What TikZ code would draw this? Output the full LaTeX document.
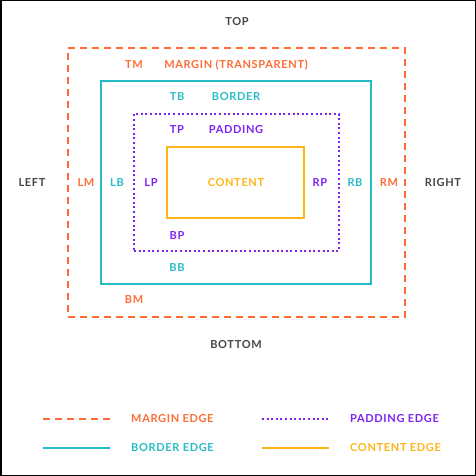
\documentclass[tikz,border=0pt]{standalone}
\usepackage{fontspec}
\setmainfont{Lato}[LetterSpace=6]
\usepackage{tikz}
\usetikzlibrary{calc}

\definecolor{margincol}{HTML}{FF6B35}
\definecolor{bordercol}{HTML}{26BCC6}
\definecolor{paddingcol}{HTML}{7B22F5}
\definecolor{contentcol}{HTML}{FDB515}
\definecolor{sidecol}{HTML}{444444}

\tikzset{
  lbl/.style={font=\bfseries\fontsize{11}{13}\selectfont,inner sep=0pt},
  marginedge/.style={draw=margincol,line width=2pt,dash pattern=on 7pt off 5pt},
  borderedge/.style={draw=bordercol,line width=2pt},
  paddingedge/.style={draw=paddingcol,line width=2pt,dash pattern=on 2pt off 2.6pt},
  contentedge/.style={draw=contentcol,line width=2pt},
  boxnode/.style={rectangle,inner sep=0pt,outer sep=0pt}
}

\begin{document}
\begin{tikzpicture}[x=1pt,y=-1pt]
\useasboundingbox (0,0) rectangle (476,476);
\draw[line width=1.5pt] (0.75,0.75) rectangle (475.25,475.25);
% the four boxes
\draw (236.5,182.5) node (margin) [boxnode,marginedge,minimum width=337pt,minimum height=269pt] {};
\draw (236,182.5) node (border) [boxnode,borderedge,minimum width=270pt,minimum height=203pt] {};
\draw (236.5,182.5) node (padding) [boxnode,paddingedge,minimum width=205pt,minimum height=137pt] {};
\draw (235.5,182.5) node (content) [boxnode,contentedge,minimum width=137pt,minimum height=71pt] {};
% sides
\draw (237,22) node (top) [lbl,text=sidecol] {TOP};
\draw (236,345) node (bottom) [lbl,text=sidecol] {BOTTOM};
\draw (32,183) node (left) [lbl,text=sidecol] {LEFT};
\draw (443,183) node (right) [lbl,text=sidecol] {RIGHT};
% margin
\draw (134,65) node (tm) [lbl,text=margincol] {TM};
\draw (236,65) node (marginname) [lbl,text=margincol] {MARGIN (TRANSPARENT)};
\draw (86,183) node (lm) [lbl,text=margincol] {LM};
\draw (389,183) node (rm) [lbl,text=margincol] {RM};
\draw (134,300) node (bm) [lbl,text=margincol] {BM};
% border
\draw (177,97) node (tb) [lbl,text=bordercol] {TB};
\draw (236,97) node (bordername) [lbl,text=bordercol] {BORDER};
\draw (117,183) node (lb) [lbl,text=bordercol] {LB};
\draw (355,183) node (rb) [lbl,text=bordercol] {RB};
\draw (177,268) node (bb) [lbl,text=bordercol] {BB};
% padding
\draw (177,130) node (tp) [lbl,text=paddingcol] {TP};
\draw (236,130) node (paddingname) [lbl,text=paddingcol] {PADDING};
\draw (151,183) node (lp) [lbl,text=paddingcol] {LP};
\draw (320,183) node (rp) [lbl,text=paddingcol] {RP};
\draw (177,236) node (bp) [lbl,text=paddingcol] {BP};
% content
\draw (236,183) node (contentname) [lbl,text=contentcol] {CONTENT};
% legend
\coordinate (ma) at (43,419);\coordinate (mb) at (110,419);
\draw[marginedge] (ma) -- (mb);
\draw (131,419) node (mlegend) [lbl,anchor=west,text=margincol] {MARGIN EDGE};
\coordinate (pa) at (262,419);\coordinate (pb) at (329,419);
\draw[paddingedge] (pa) -- (pb);
\draw (350,419) node (plegend) [lbl,anchor=west,text=paddingcol] {PADDING EDGE};
\coordinate (ba) at (43,448);\coordinate (bb) at (110,448);
\draw[borderedge] (ba) -- (bb);
\draw (131,448) node (blegend) [lbl,anchor=west,text=bordercol] {BORDER EDGE};
\coordinate (ca) at (262,448);\coordinate (cb) at (329,448);
\draw[contentedge] (ca) -- (cb);
\draw (350,448) node (clegend) [lbl,anchor=west,text=contentcol] {CONTENT EDGE};
\end{tikzpicture}
\end{document}
